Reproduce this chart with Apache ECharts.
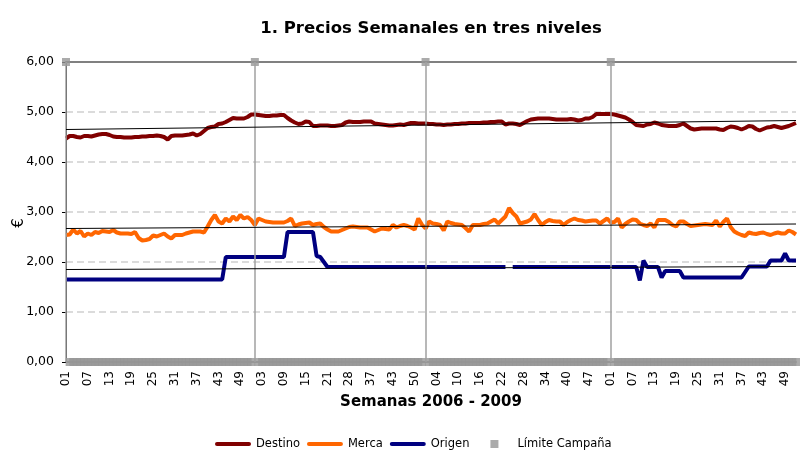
<!DOCTYPE html>
<html>
<head>
<meta charset="utf-8">
<script src="https://cdn.jsdelivr.net/npm/echarts@6/dist/echarts.min.js"></script>
<style>html,body{margin:0;padding:0;background:#fff}#c{width:800px;height:461px}</style>
</head>
<body>
<div id="c"></div>
<script>
// ---- Categories: weeks per year (some weeks missing in the source) ----
const weeks2006 = [1,2,3,4,5,6,7,8,9,10,11,12,13,14,15,16,17,18,19,20,21,22,23,24,25,26,27,28,29,30,31,32,33,34,35,36,37,38,39,40,41,42,43,44,45,46,47,48,49,50,51,52];
const weeks2007 = [1,2,3,4,5,6,7,8,9,10,11,12,13,14,15,16,17,18,19,20,21,22,23,24,26,27,28,29,31,33,35,36,37,38,39,40,41,42,43,44,45,46,48,49,50,51,52];
const weeks2008 = [1,2,3,4,5,6,7,8,9,10,11,12,13,14,15,16,17,18,19,20,21,22,23,24,25,26,27,28,29,30,31,32,33,34,35,36,37,38,39,40,41,42,43,45,46,47,48,49,50,51,52];
const weeks2009 = [1,2,3,4,5,6,7,8,9,10,11,12,13,14,15,16,17,18,19,20,21,22,23,24,25,26,27,28,29,30,31,32,33,34,35,36,37,38,39,40,41,42,43,44,45,46,47,48,49,50,51,52];

// ---- Series values (€) ----
const destino = [
4.47,4.52,4.52,4.50,4.49,4.52,4.52,4.51,4.53,4.55,
4.56,4.56,4.54,4.51,4.50,4.50,4.49,4.49,4.49,4.50,
4.50,4.51,4.51,4.52,4.52,4.53,4.52,4.50,4.45,4.52,
4.53,4.53,4.53,4.54,4.55,4.57,4.53,4.56,4.62,4.68,
4.70,4.71,4.76,4.77,4.80,4.84,4.88,4.87,4.87,4.87,
4.90,4.95,4.95,4.94,4.93,4.92,4.92,4.93,4.93,4.94,
4.94,4.88,4.83,4.79,4.76,4.77,4.81,4.80,4.72,4.72,
4.73,4.73,4.73,4.72,4.72,4.73,4.74,4.79,4.81,4.80,
4.80,4.80,4.81,4.81,4.81,4.77,4.76,4.75,4.74,4.73,
4.73,4.74,4.75,4.74,4.76,4.78,4.78,4.77,4.77,4.77,
4.76,4.76,4.75,4.75,4.74,4.75,4.75,4.76,4.76,4.77,
4.77,4.78,4.78,4.78,4.78,4.79,4.79,4.80,4.80,4.81,
4.81,4.75,4.77,4.77,4.76,4.74,4.78,4.82,4.85,4.86,
4.87,4.87,4.87,4.87,4.86,4.85,4.85,4.85,4.85,4.86,
4.85,4.83,4.84,4.87,4.87,4.90,4.96,4.96,4.96,4.96,
4.96,4.95,4.93,4.91,4.89,4.85,4.80,4.74,4.73,4.72,
4.75,4.76,4.79,4.77,4.74,4.73,4.72,4.72,4.72,4.74,
4.77,4.72,4.67,4.65,4.66,4.67,4.67,4.67,4.67,4.67,
4.65,4.64,4.68,4.71,4.70,4.68,4.65,4.68,4.72,4.71,
4.66,4.63,4.66,4.69,4.70,4.72,4.70,4.68,4.70,4.72,
4.75,4.78];
const merca = [
2.54,2.55,2.65,2.57,2.62,2.51,2.57,2.54,2.60,2.58,
2.62,2.61,2.60,2.64,2.59,2.57,2.57,2.57,2.56,2.60,
2.48,2.43,2.44,2.46,2.53,2.51,2.54,2.57,2.51,2.47,
2.54,2.54,2.54,2.57,2.59,2.61,2.61,2.61,2.59,2.71,
2.84,2.94,2.81,2.77,2.87,2.81,2.91,2.84,2.94,2.87,
2.90,2.84,2.74,2.87,2.84,2.81,2.80,2.79,2.79,2.79,
2.79,2.82,2.87,2.72,2.75,2.77,2.78,2.79,2.74,2.76,
2.77,2.70,2.65,2.61,2.61,2.61,2.64,2.67,2.70,2.71,
2.70,2.69,2.69,2.69,2.65,2.61,2.64,2.67,2.66,2.65,
2.74,2.69,2.72,2.74,2.72,2.69,2.65,2.87,2.75,2.67,
2.81,2.77,2.76,2.74,2.63,2.81,2.78,2.76,2.75,2.74,
2.68,2.61,2.74,2.74,2.74,2.76,2.77,2.81,2.85,2.77,
2.84,2.91,3.08,2.98,2.91,2.77,2.79,2.81,2.85,2.96,
2.84,2.74,2.80,2.84,2.82,2.81,2.81,2.74,2.80,2.84,
2.87,2.84,2.83,2.81,2.82,2.83,2.83,2.77,2.82,2.87,
2.79,2.80,2.87,2.69,2.76,2.81,2.85,2.84,2.77,2.74,
2.72,2.77,2.69,2.84,2.84,2.84,2.80,2.74,2.71,2.81,
2.81,2.76,2.72,2.73,2.74,2.75,2.76,2.75,2.74,2.83,
2.71,2.80,2.87,2.70,2.61,2.57,2.54,2.52,2.59,2.57,
2.56,2.58,2.59,2.56,2.54,2.57,2.59,2.57,2.57,2.63,
2.60,2.55];
const origen = [
1.65,1.65,1.65,1.65,1.65,1.65,1.65,1.65,1.65,1.65,
1.65,1.65,1.65,1.65,1.65,1.65,1.65,1.65,1.65,1.65,
1.65,1.65,1.65,1.65,1.65,1.65,1.65,1.65,1.65,1.65,
1.65,1.65,1.65,1.65,1.65,1.65,1.65,1.65,1.65,1.65,
1.65,1.65,1.65,1.65,2.10,2.10,2.10,2.10,2.10,2.10,
2.10,2.10,2.10,2.10,2.10,2.10,2.10,2.10,2.10,2.10,
2.10,2.60,2.60,2.60,2.60,2.60,2.60,2.60,2.60,2.12,
2.10,2.00,1.90,1.90,1.90,1.90,1.90,1.90,1.90,1.90,
1.90,1.90,1.90,1.90,1.90,1.90,1.90,1.90,1.90,1.90,
1.90,1.90,1.90,1.90,1.90,1.90,1.90,1.90,1.90,1.90,
1.90,1.90,1.90,1.90,1.90,1.90,1.90,1.90,1.90,1.90,
1.90,1.90,1.90,1.90,1.90,1.90,1.90,1.90,1.90,1.90,
1.90,1.90,null,1.90,1.90,1.90,1.90,1.90,1.90,1.90,
1.90,1.90,1.90,1.90,1.90,1.90,1.90,1.90,1.90,1.90,
1.90,1.90,1.90,1.90,1.90,1.90,1.90,1.90,1.90,1.90,
1.90,1.90,1.90,1.90,1.90,1.90,1.90,1.90,1.63,2.03,
1.90,1.90,1.90,1.90,1.69,1.82,1.82,1.82,1.82,1.82,
1.69,1.69,1.69,1.69,1.69,1.69,1.69,1.69,1.69,1.69,
1.69,1.69,1.69,1.69,1.69,1.69,1.69,1.80,1.91,1.91,
1.91,1.91,1.91,1.91,2.03,2.03,2.03,2.03,2.17,2.03,
2.03,2.03];

// Linear trend lines (start, end)
const trendDestino = [4.65, 4.83];
const trendMerca = [2.67, 2.76];
const trendOrigen = [1.85, 1.91];

// Campaign limits (start of each campaign)
const campaignStarts = ["2006-01", "2007-01", "2008-01", "2009-01"];
const limitTop = 6;
const limitBase = 0;

// y-axis ticks
const yTicks = [0, 1, 2, 3, 4, 5, 6];

// ---- Build categories ----
function pad(w) { return (w < 10 ? "0" : "") + w; }
const categories = [];
[[2006, weeks2006], [2007, weeks2007], [2008, weeks2008], [2009, weeks2009]].forEach(function (p) {
  p[1].forEach(function (w) { categories.push(p[0] + "-" + pad(w)); });
});
const last = categories[categories.length - 1];
const limitData = categories.map(function (c) { return campaignStarts.indexOf(c) >= 0 ? limitTop : limitBase; });

const FONT = "DejaVu Sans";
function trend(vals) {
  return {
    silent: true, symbol: ["none", "none"], animation: false,
    label: { show: false },
    lineStyle: { color: "#000", width: 1, type: "solid" },
    emphasis: { disabled: true },
    data: [[{ coord: [categories[0], vals[0]] }, { coord: [last, vals[1]] }]]
  };
}
const linePath = "path://M2,0L34,0A2,2,0,0,1,34,4L2,4A2,2,0,0,1,2,0Z";
const squarePath = "path://M-14,4L-14,4M0,0L8,0L8,8L0,8ZM22,4L22,4";

const chart = echarts.init(document.getElementById("c"), null, { renderer: "canvas" });
chart.setOption({
  animation: false,
  backgroundColor: "#fff",
  title: {
    text: "1. Precios Semanales en tres niveles",
    left: 431, top: 20, padding: 0, textAlign: "center",
    textStyle: { fontFamily: FONT, fontSize: 16.5, fontWeight: "bold", color: "#000" }
  },
  legend: {
    left: 210, top: 433, itemWidth: 36, itemHeight: 8, itemGap: 7,
    textStyle: { fontFamily: FONT, fontSize: 11.5, color: "#000" },
    selectedMode: false,
    data: [
      { name: "Destino", icon: linePath },
      { name: "Merca", icon: linePath },
      { name: "Origen", icon: linePath },
      { name: "Límite Campaña", icon: squarePath }
    ]
  },
  grid: { left: 66, top: 62, width: 730, height: 300, containLabel: false, outerBoundsMode: "none" },
  xAxis: [{
    type: "category", data: categories, boundaryGap: false,
    name: "Semanas 2006 - 2009", nameLocation: "middle", nameGap: 33,
    nameTextStyle: { fontFamily: FONT, fontSize: 15, fontWeight: "bold", color: "#000" },
    axisLine: { lineStyle: { color: "#999", width: 2 } },
    axisTick: { show: false },
    axisLabel: {
      interval: 5, rotate: 90, margin: 9, fontFamily: FONT, fontSize: 12, color: "#000",
      formatter: function (v) { return v.slice(5); }
    },
    splitLine: { show: false }
  }, {
    type: "category", data: categories, boundaryGap: false, position: "top",
    axisLine: { lineStyle: { color: "#808080", width: 2 } },
    axisTick: { show: false }, axisLabel: { show: false }, splitLine: { show: false }
  }],
  yAxis: {
    type: "value", min: yTicks[0], max: yTicks[yTicks.length - 1], interval: 1,
    name: "€", nameLocation: "middle", nameGap: 39, nameRotate: 90, nameMoveOverlap: false,
    nameTextStyle: { fontFamily: FONT, fontSize: 15, color: "#000", padding: [0, 22, 0, 0] },
    axisLine: { show: true, lineStyle: { color: "#000", width: 1 } },
    axisTick: { show: true, length: 4, lineStyle: { color: "#000" } },
    axisLabel: {
      margin: 12, fontFamily: FONT, fontSize: 12.5, color: "#000",
      formatter: function (v) { return v.toFixed(2).replace(".", ","); }
    },
    splitLine: { show: true, lineStyle: { color: "#d0d0d0", width: 1.5, type: [7, 4] } }
  },
  series: [
    {
      name: "Límite Campaña", type: "scatter", data: limitData, z: 1,
      symbol: "rect", symbolSize: 8, itemStyle: { color: "#969696" },
      silent: true,
      markLine: {
        silent: true, symbol: ["none", "none"], label: { show: false },
        lineStyle: { color: "#a0a0a0", width: 1.5, type: "solid" },
        data: campaignStarts.map(function (c) { return { xAxis: c }; })
      }
    },
    {
      name: "Destino", type: "line", data: destino, symbol: "none", z: 3,
      lineStyle: { color: "#800000", width: 4 }, itemStyle: { color: "#800000" },
      markLine: trend(trendDestino)
    },
    {
      name: "Merca", type: "line", data: merca, symbol: "none", z: 3,
      lineStyle: { color: "#FF6600", width: 4 }, itemStyle: { color: "#FF6600" },
      markLine: trend(trendMerca)
    },
    {
      name: "Origen", type: "line", data: origen, symbol: "none", z: 3, connectNulls: false,
      lineStyle: { color: "#000080", width: 4 }, itemStyle: { color: "#000080" },
      markLine: trend(trendOrigen)
    }
  ]
});
</script>
</body>
</html>
